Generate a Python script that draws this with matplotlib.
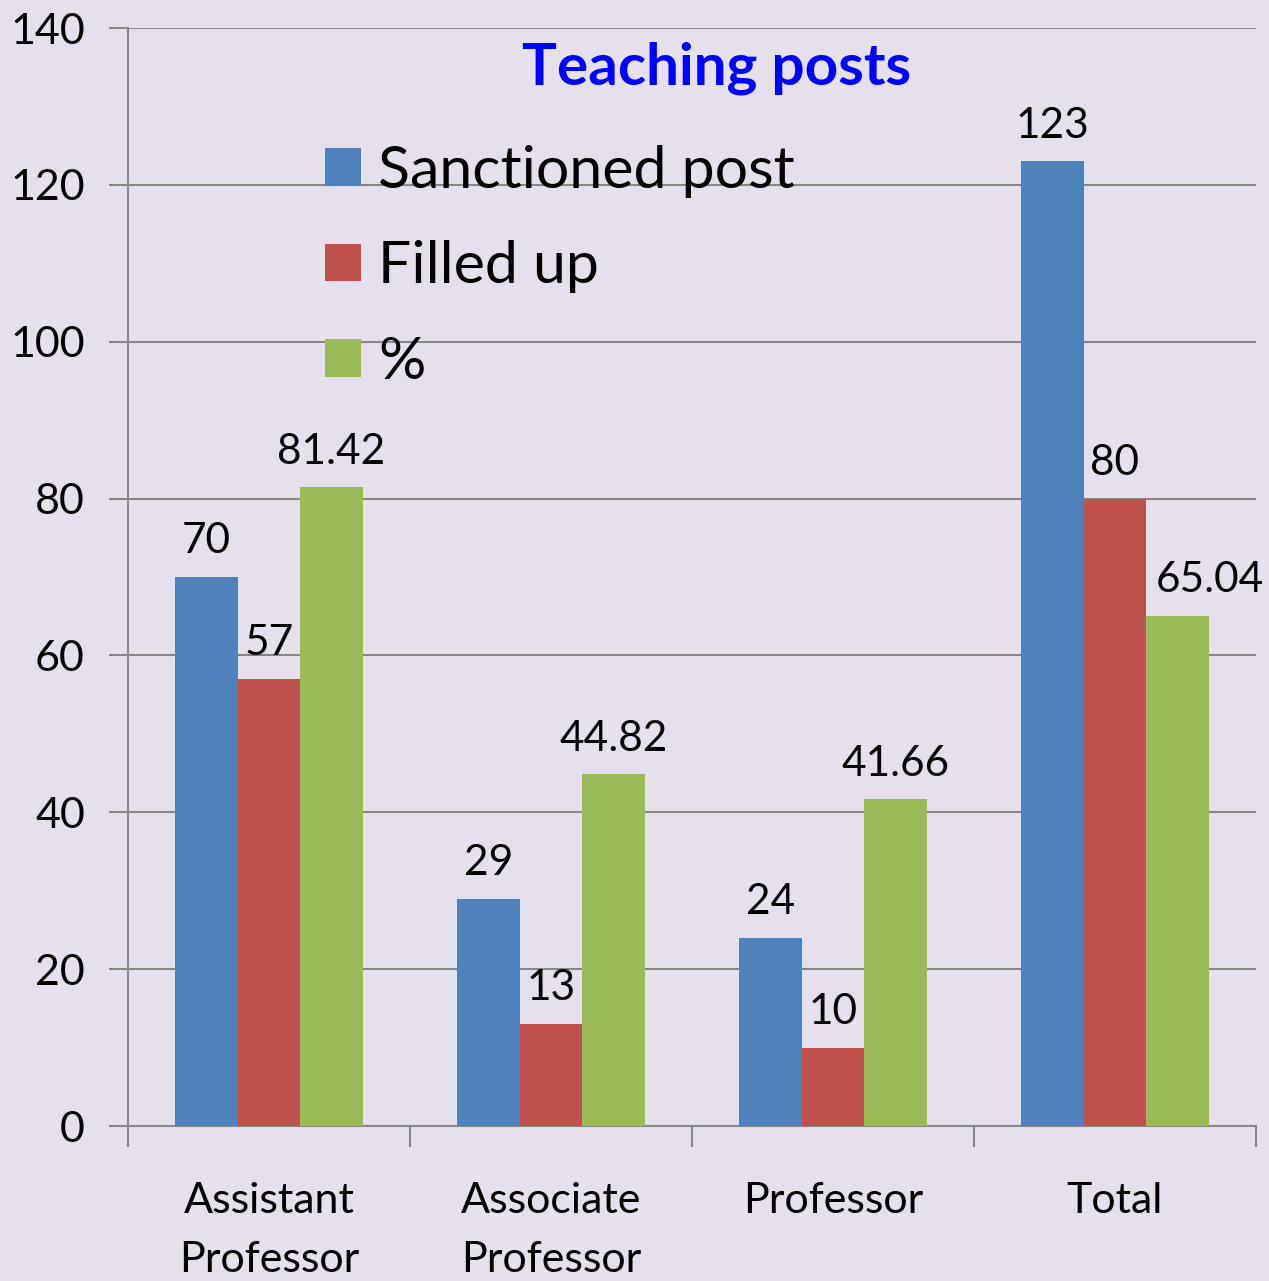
import matplotlib
matplotlib.use("Agg")
import matplotlib.pyplot as plt
import numpy as np

categories = ["Assistant\nProfessor", "Associate\nProfessor", "Professor", "Total"]
sanctioned = [70, 29, 24, 123]
filled = [57, 13, 10, 80]
percent = [81.42, 44.82, 41.66, 65.04]
series_names = ["Sanctioned post", "Filled up", "%"]
pct_labels = ["81.42", "44.82", "41.66", "65.04"]

bg = "#E6E0EC"
colors = ["#4F81BD", "#C0504D", "#9BBB59"]
grey = "#878787"

plt.rcParams['font.family'] = ['Lato', 'DejaVu Sans']

fig = plt.figure(figsize=(12.69, 12.81), dpi=100, facecolor=bg)
ax = fig.add_axes([128 / 1269, 1 - 1126 / 1281, 1128 / 1269, 1098 / 1281])
ax.set_facecolor(bg)

x = np.arange(len(categories))
w = 0.222
data = [sanctioned, filled, percent]
bars = []
for i, vals in enumerate(data):
    b = ax.bar(x + (i - 1) * w, vals, w, color=colors[i], label=series_names[i], zorder=3)
    bars.append(b)

for i, b in enumerate(bars):
    labels = pct_labels if i == 2 else [str(v) for v in data[i]]
    texts = ax.bar_label(b, labels=labels, padding=12, fontsize=30.5, color="black")
    if i == 2:
        # the last label is pushed right, as in the original
        texts[-1].xyann = (23, 12)

ax.set_xlim(-0.5, 3.5)
ax.set_ylim(0, 140)
ax.set_yticks(np.arange(0, 141, 20))
ax.yaxis.grid(True, color=grey, linewidth=1.5, zorder=0)
ax.set_axisbelow(True)

ax.set_xticks(np.arange(-0.5, 3.6, 1))
ax.set_xticklabels([])
ax.set_xticks(x, minor=True)
ax.set_xticklabels(categories, minor=True, fontsize=31)
for t in ax.get_xticklabels(minor=True):
    t.set_linespacing(1.7)
ax.tick_params(axis="x", which="minor", length=0, pad=40)
ax.tick_params(axis="x", which="major", length=15, width=1.5, color=grey)
ax.tick_params(axis="y", length=14, width=1.5, color=grey, labelsize=31, pad=17)

for s in ["top", "right"]:
    ax.spines[s].set_visible(False)
for s in ["left", "bottom"]:
    ax.spines[s].set_color(grey)
    ax.spines[s].set_linewidth(1.5)

ax.text(0.522, 0.963, "Teaching posts", transform=ax.transAxes, ha="center", va="center",
        fontsize=42, fontweight="bold", color="#0000FF")

ax.legend(loc="upper left", bbox_to_anchor=(0.154, 0.915), frameon=False, fontsize=42.5,
          handlelength=0.6, handleheight=0.6, handletextpad=0.3, labelspacing=0.72,
          borderaxespad=0)

fig.savefig("out.png", dpi=100, facecolor=bg)
